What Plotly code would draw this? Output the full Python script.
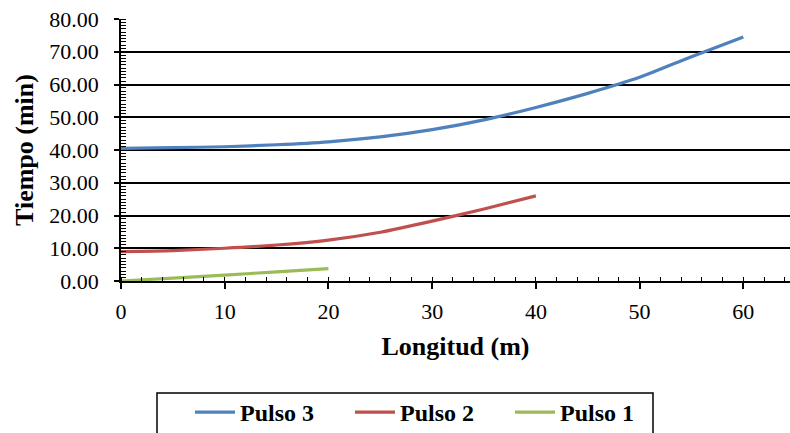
import plotly.graph_objects as go

# Longitud (m) sample positions and travel time (min) for each pulse
longitud_p3 = [0, 5, 10, 15, 20, 25, 30, 35, 40, 45, 50, 55, 60]
tiempo_p3 = [40.5, 40.7, 41.0, 41.6, 42.5, 44.0, 46.2, 49.2, 53.0, 57.3, 62.2, 68.5, 74.5]

longitud_p2 = [0, 5, 10, 15, 20, 25, 30, 35, 40]
tiempo_p2 = [9.0, 9.3, 10.0, 11.0, 12.5, 14.9, 18.3, 22.0, 26.0]

longitud_p1 = [0, 5, 10, 15, 20]
tiempo_p1 = [0.0, 0.9, 1.8, 2.8, 3.8]

series = [
    ("Pulso 3", longitud_p3, tiempo_p3, "#4F81BD"),
    ("Pulso 2", longitud_p2, tiempo_p2, "#C0504D"),
    ("Pulso 1", longitud_p1, tiempo_p1, "#9BBB59"),
]

FONT = "Liberation Serif"
W, H = 790, 433

# plot area in pixels: x 121..790, y 19..281
PL, PR, PT, PB = 121, 790, 19, 281


def px_x(p):
    return (p - PL) / (PR - PL)


def px_y(p):
    return (PB - p) / (PB - PT)


fig = go.Figure()
for name, xs, ys, color in series:
    fig.add_trace(go.Scatter(
        x=xs, y=ys, name=name, mode="lines",
        line=dict(color=color, width=3.2, shape="spline", smoothing=0.6),
    ))

# legend frame
fig.add_shape(
    type="rect", xref="paper", yref="paper",
    x0=px_x(157), x1=px_x(653), y0=px_y(393), y1=px_y(445),
    line=dict(color="black", width=1.5), fillcolor="rgba(0,0,0,0)",
    layer="above",
)

fig.update_layout(
    width=W, height=H,
    margin=dict(l=PL, r=0, t=PT, b=H - PB, autoexpand=False),
    paper_bgcolor="white", plot_bgcolor="white",
    font=dict(family=FONT, color="black", size=22),
    showlegend=True,
    legend=dict(
        orientation="h", xref="container", yref="container",
        x=190 / W, y=(H - 390) / H, xanchor="left", yanchor="top",
        borderwidth=0, bgcolor="rgba(0,0,0,0)",
        font=dict(family=FONT, size=24, color="black", weight="bold"),
        entrywidth=105, entrywidthmode="pixels",
        itemwidth=40,
    ),
)

fig.update_xaxes(
    range=[0, 64.5], dtick=10, tick0=0,
    showgrid=False, zeroline=False,
    showline=True, linecolor="black", linewidth=1.5,
    ticks="outside", ticklen=6, tickwidth=1.5, tickcolor="black",
    tickfont=dict(family=FONT, size=22), ticklabelstandoff=4,
    minor=dict(dtick=2, ticks="inside", ticklen=4, tickwidth=1, tickcolor="black", showgrid=False),
    title=dict(text="Longitud (m)", font=dict(family=FONT, size=26, weight="bold"), standoff=14),
)

fig.update_yaxes(
    range=[0, 80], dtick=10, tick0=0, tickformat=".2f",
    showgrid=True, gridcolor="black", gridwidth=1.5,
    zeroline=False,
    showline=True, linecolor="black", linewidth=1.5,
    ticks="outside", ticklen=5, tickwidth=1.5, tickcolor="black",
    tickfont=dict(family=FONT, size=22), ticklabelstandoff=11,
    minor=dict(dtick=1, ticks="inside", ticklen=5, tickwidth=1, tickcolor="black", showgrid=False),
    title=dict(text="Tiempo (min)", font=dict(family=FONT, size=26, weight="bold"), standoff=8),
)

fig.write_html("out.html")
